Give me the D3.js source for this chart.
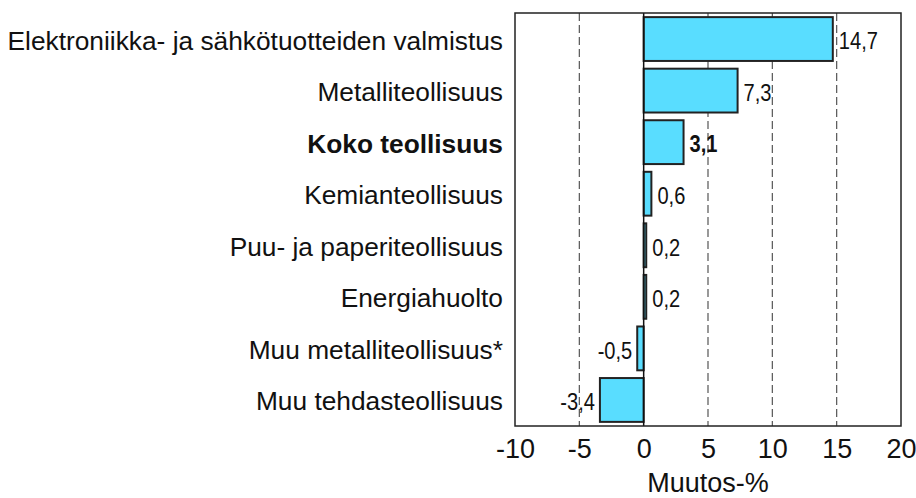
<!DOCTYPE html>
<html>
<head>
<meta charset="utf-8">
<script src="https://cdn.jsdelivr.net/npm/d3@7"></script>
<style>
  body { margin: 0; background: #fff; }
  svg { display: block; }
</style>
</head>
<body>
<div id="chart"></div>
<script>
// data
var categories = [
  'Elektroniikka- ja sähkötuotteiden valmistus',
  'Metalliteollisuus',
  'Koko teollisuus',
  'Kemianteollisuus',
  'Puu- ja paperiteollisuus',
  'Energiahuolto',
  'Muu metalliteollisuus*',
  'Muu tehdasteollisuus'
];
var values = [14.7, 7.3, 3.1, 0.6, 0.2, 0.2, -0.5, -3.4];
var boldCategory = 'Koko teollisuus';
var xTicks = [-10, -5, 0, 5, 10, 15, 20];
var gridTicks = [-5, 5, 10, 15];
var xTitle = 'Muutos-%';

var width = 916, height = 498;
var margins = {left: 515, right: 15, top: 13, bottom: 72};
var innerW = width - margins.left - margins.right;
var innerH = height - margins.top - margins.bottom;
var labelFont = '"Liberation Sans", Arial, sans-serif';
// narrow look for value labels: regular sans squeezed horizontally
var narrow = 0.82;

var svg = d3.select('#chart').append('svg')
            .attr('width', width)
            .attr('height', height);

var g = svg.append('g')
           .attr('transform', 'translate(' + margins.left + ',' + margins.top + ')');

var x = d3.scaleLinear().domain([-10, 20]).range([0, innerW]);
var y = d3.scaleBand().domain(categories).range([0, innerH]).paddingInner(0.15).paddingOuter(0.08);

var fmt = function(v) { return d3.format('.1f')(v).replace('.', ',').replace('−', '-'); };

// dashed grid lines
g.selectAll('line.grid')
 .data(gridTicks)
 .enter().append('line')
 .attr('class', 'grid')
 .attr('x1', function(d) { return x(d); })
 .attr('x2', function(d) { return x(d); })
 .attr('y1', 0)
 .attr('y2', innerH)
 .attr('stroke', '#555')
 .attr('stroke-width', 1.2)
 .attr('stroke-dasharray', '8,4');

// bars
g.selectAll('rect.bar')
 .data(values)
 .enter().append('rect')
 .attr('class', 'bar')
 .attr('x', function(d) { return x(Math.min(0, d)); })
 .attr('y', function(d, i) { return y(categories[i]); })
 .attr('width', function(d) { return Math.abs(x(d) - x(0)); })
 .attr('height', y.bandwidth())
 .attr('fill', '#59DDFF')
 .attr('stroke', '#222')
 .attr('stroke-width', 2);

// zero line
g.append('line')
 .attr('x1', x(0)).attr('x2', x(0))
 .attr('y1', 0).attr('y2', innerH)
 .attr('stroke', '#111')
 .attr('stroke-width', 1.5);

// frame
g.append('rect')
 .attr('x', 0).attr('y', 0)
 .attr('width', innerW).attr('height', innerH)
 .attr('fill', 'none')
 .attr('stroke', '#222')
 .attr('stroke-width', 1.5);

// value labels
g.selectAll('text.val')
 .data(values)
 .enter().append('text')
 .attr('class', 'val')
 .attr('transform', function(d, i) {
   var tx = d >= 0 ? x(d) + 6 : x(d) - 5;
   var ty = y(categories[i]) + y.bandwidth() / 2;
   return 'translate(' + tx + ',' + ty + ') scale(' + narrow + ',1)';
 })
 .attr('dy', '0.42em')
 .attr('text-anchor', function(d) { return d >= 0 ? 'start' : 'end'; })
 .style('font-family', labelFont)
 .style('font-size', '24.5px')
 .style('font-weight', function(d, i) { return categories[i] === boldCategory ? 'bold' : 'normal'; })
 .attr('fill', '#111')
 .text(fmt);

// category labels
g.selectAll('text.cat')
 .data(categories)
 .enter().append('text')
 .attr('class', 'cat')
 .attr('x', -12)
 .attr('y', function(d) { return y(d) + y.bandwidth() / 2; })
 .attr('dy', '0.4em')
 .attr('text-anchor', 'end')
 .style('font-family', labelFont)
 .style('font-size', '26.3px')
 .style('font-weight', function(d) { return d === boldCategory ? 'bold' : 'normal'; })
 .attr('fill', '#111')
 .text(function(d) { return d; });

// x axis
var xAxis = d3.axisBottom(x)
              .tickValues(xTicks)
              .tickSize(0)
              .tickFormat(function(d) { return String(d); });

var axisG = g.append('g')
             .attr('transform', 'translate(0,' + innerH + ')')
             .call(xAxis);
axisG.select('.domain').remove();
axisG.selectAll('text')
     .attr('y', 32)
     .attr('dy', 0)
     .style('font-family', labelFont)
     .style('font-size', '27px')
     .attr('fill', '#111');

// axis title
g.append('text')
 .attr('x', x(5))
 .attr('y', innerH + 66)
 .attr('text-anchor', 'middle')
 .style('font-family', labelFont)
 .style('font-size', '27px')
 .attr('fill', '#111')
 .text(xTitle);
</script>
</body>
</html>
